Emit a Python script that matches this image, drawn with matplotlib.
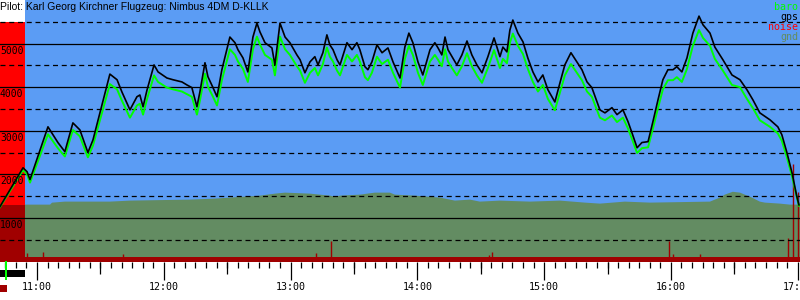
import numpy as np
import matplotlib
matplotlib.use("Agg")
import matplotlib.pyplot as plt
from matplotlib.patches import Rectangle

# flight data, minutes after 10:00 and altitude in m
minutes = [42.5, 53.4, 55.3, 56.7, 65.2, 69.9, 73.2, 77.0, 80.3, 84.1,
           86.5, 89.8, 94.5, 97.9, 100.2, 104.0, 107.3, 108.7, 110.2, 112.1,
           115.4, 117.3, 121.5, 124.4, 128.6, 131.0, 133.3, 135.7, 137.1, 139.5,
           140.9, 143.3, 145.2, 147.5, 151.3, 153.7, 155.1, 157.5, 159.8, 162.2,
           164.1, 165.5, 167.9, 171.2, 172.6, 175.0, 177.4, 179.7, 183.0, 184.5,
           186.8, 189.2, 191.5, 193.0, 195.3, 197.2, 198.6, 200.1, 202.0, 203.4,
           206.7, 209.1, 211.4, 212.8, 215.2, 216.6, 218.5, 220.9, 223.3, 226.1,
           228.5, 231.8, 234.1, 236.0, 237.9, 240.3, 242.6, 246.0, 248.3, 249.8,
           251.6, 253.1, 254.5, 256.4, 258.7, 261.1, 263.5, 265.8, 268.2, 270.6,
           273.4, 276.3, 279.1, 280.5, 282.4, 283.8, 285.2, 287.6, 290.0, 292.3,
           294.7, 297.1, 299.4, 301.8, 305.1, 307.5, 309.8, 312.7, 315.5, 317.9,
           320.3, 322.6, 326.4, 328.8, 332.1, 334.5, 337.3, 339.7, 341.6, 344.0,
           346.3, 349.2, 351.5, 353.9, 356.2, 358.6, 361.0, 362.8, 365.2, 367.6,
           370.4, 373.3, 375.2, 378.5, 380.8, 384.6, 388.9, 392.7, 396.0, 398.8,
           402.1, 406.9, 410.6, 412.5, 414.9, 417.3, 419.6, 420.6]

gps = [1260, 2150, 2060, 1880, 3090, 2730, 2520, 3180, 3020, 2500,
       2790, 3410, 4300, 4170, 3890, 3480, 3780, 3820, 3550, 3940,
       4510, 4350, 4210, 4170, 4120, 4050, 3990, 3550, 3890, 4560,
       4240, 3990, 3780, 4400, 5150, 5020, 4860, 4670, 4350, 5150,
       5470, 5270, 5020, 4900, 4510, 5470, 5150, 5020, 4740, 4630,
       4330, 4580, 4700, 4510, 4790, 5200, 4970, 4860, 4630, 4510,
       5020, 4860, 5020, 4860, 4470, 4400, 4580, 4970, 4790, 4900,
       4580, 4210, 4920, 5240, 5020, 4580, 4280, 4860, 5020, 4900,
       4740, 5150, 4860, 4700, 4510, 4740, 5060, 4740, 4510, 4330,
       4700, 5130, 4700, 4920, 4810, 5310, 5540, 5240, 5040, 4670,
       4350, 4120, 4280, 3940, 3660, 4100, 4510, 4790, 4580, 4400,
       4120, 3990, 3480, 3410, 3530, 3370, 3480, 3210, 2950, 2610,
       2730, 2750, 3210, 3710, 4170, 4400, 4400, 4470, 4350, 4670,
       5240, 5630, 5430, 5240, 4920, 4630, 4280, 4170, 3940, 3710,
       3410, 3250, 3090, 2910, 2500, 2040, 1490, 1300]

baro = [1250, 2100, 2000, 1810, 2920, 2600, 2410, 3020, 2870, 2390,
        2660, 3240, 4070, 3950, 3690, 3300, 3580, 3620, 3370, 3730,
        4270, 4120, 3990, 3950, 3900, 3840, 3780, 3370, 3690, 4310,
        4010, 3780, 3580, 4160, 4870, 4740, 4590, 4420, 4120, 4870,
        5160, 4980, 4740, 4630, 4270, 5160, 4870, 4740, 4480, 4380,
        4100, 4330, 4440, 4270, 4530, 4910, 4700, 4590, 4380, 4270,
        4740, 4590, 4740, 4590, 4230, 4160, 4330, 4700, 4530, 4630,
        4330, 3990, 4650, 4950, 4740, 4330, 4050, 4590, 4740, 4630,
        4480, 4870, 4590, 4440, 4270, 4480, 4780, 4480, 4270, 4100,
        4440, 4850, 4440, 4650, 4550, 5020, 5230, 4950, 4760, 4420,
        4120, 3900, 4050, 3730, 3470, 3880, 4270, 4530, 4330, 4160,
        3900, 3780, 3300, 3240, 3350, 3200, 3300, 3050, 2810, 2490,
        2600, 2620, 3050, 3520, 3950, 4160, 4160, 4230, 4120, 4420,
        4950, 5310, 5130, 4950, 4650, 4380, 4050, 4000, 3730, 3520,
        3240, 3090, 2940, 2770, 2390, 1960, 1470, 1280]

gnd_minutes = [42.5, 54.3, 66.2, 67.1, 73.2, 94.5, 104.0, 132.4, 144.2, 151.3,
               165.5, 172.6, 177.4, 189.2, 198.6, 201.0, 203.4, 212.8, 219.9, 227.0,
               229.4, 238.9, 250.7, 257.8, 264.9, 269.6, 279.1, 293.3, 307.5, 319.3,
               326.4, 338.2, 350.1, 378.5, 380.8, 383.2, 385.5, 389.3, 392.7, 395.0,
               397.4, 402.1, 404.5, 411.6, 416.3, 421.1]
gnd = [1305, 1305, 1305, 1350, 1374, 1374, 1397, 1420, 1443, 1466,
       1511, 1557, 1580, 1557, 1511, 1489, 1511, 1534, 1580, 1580,
       1534, 1511, 1466, 1397, 1420, 1374, 1397, 1374, 1397, 1351,
       1328, 1374, 1351, 1374, 1420, 1466, 1534, 1600, 1580, 1534,
       1489, 1374, 1351, 1328, 1305, 1305]

noise_floor = 100
noise_minutes = [55.3, 62.8, 100.7, 192.0, 199.1, 273.9, 275.3, 359.1, 361.0, 373.7, 415.4, 417.7, 420.1]
noise_level = [206, 229, 183, 206, 481, 160, 229, 481, 183, 183, 550, 2244, 1603]

engine_on = (40, 54.3)
engine_top = 5500

grid_solid = [1000, 2000, 3000, 4000, 5000]
grid_dashed = [500, 1500, 2500, 3500, 4500, 5500]
hour_ticks = [60, 120, 180, 240, 300, 360, 420]
hour_labels = ["11:00", "12:00", "13:00", "14:00", "15:00", "16:00", "17:00"]
legend_names = ["baro", "gps", "noise", "gnd"]

blue = "#5b9cf4"
green = "#00ff00"
red = "#ff0000"
darkred = "#a00000"
gndcol = "#638c62"
legend_colors = [green, "black", red, gndcol]

fig = plt.figure(figsize=(8, 3), dpi=100)
ax = fig.add_axes([0, 38.5 / 300, 1, 261.5 / 300])
ax.set_facecolor(blue)
ax.set_xlim(42.5, 421.1)
ax.set_ylim(0, 6000)

# ground
ax.fill_between(gnd_minutes, 0, gnd, color=gndcol, lw=0, zorder=1)

# engine running band
ax.fill_between([engine_on[0], engine_on[1]], 0, gnd[0], color=darkred, lw=0, zorder=2)
ax.fill_between([engine_on[0], engine_on[1]], gnd[0], engine_top, color=red, lw=0, zorder=2)
ax.fill_between([engine_on[0], engine_on[1]], engine_top, 6000, color="white", lw=0, zorder=2)

# noise
ax.axhspan(0, noise_floor, color=darkred, lw=0, zorder=3)
ax.vlines(noise_minutes, 0, noise_level, color=darkred, lw=1.0, zorder=3)

# grid
for v in grid_solid:
    ax.axhline(v, color="black", lw=0.9, zorder=4)
for v in grid_dashed:
    ax.axhline(v, color="black", lw=0.9, ls=(0, (4, 3)), zorder=4)

ax.plot(minutes, baro, color=green, lw=1.4, zorder=5)
ax.plot(minutes, gps, color="black", lw=1.2, zorder=6)

mono = "DejaVu Sans Mono"
for v in grid_solid:
    ax.annotate(str(v), xy=(0, v), xycoords=("axes fraction", "data"),
                xytext=(0, -2), textcoords="offset pixels", ha="left", va="top",
                fontsize=7, family=mono, color="black", zorder=7)

for i, (name, c) in enumerate(zip(legend_names, legend_colors)):
    ax.annotate(name, xy=(1, 1), xycoords="axes fraction",
                xytext=(-2, -10 - i * 10), textcoords="offset pixels",
                ha="right", va="baseline", fontsize=7.2, family=mono, color=c, zorder=8)

for s in ax.spines.values():
    s.set_visible(False)
ax.set_yticks([])
ax.set_xticks(hour_ticks)
ax.set_xticklabels(hour_labels, family=mono, fontsize=7.2)
ax.set_xticks(np.arange(45, 425, 5), minor=True)
ax.tick_params(axis="x", which="major", length=13, width=0.9, pad=1.8, direction="out")
ax.tick_params(axis="x", which="minor", length=4.3, width=0.9, direction="out")

half = ax.secondary_xaxis("bottom")
half.set_xticks([90, 150, 210, 270, 330, 390])
half.set_xticklabels([])
half.tick_params(length=8.6, width=0.9)
for s in half.spines.values():
    s.set_visible(False)

fig.text(0, 1 - 2 / 300, "Pilot: Karl Georg Kirchner Flugzeug: Nimbus 4DM D-KLLK",
         ha="left", va="top", fontsize=7.5, family="Liberation Sans", color="black")

# little markers at bottom left
fig.patches.append(Rectangle((0, 1 - 277 / 300), 25 / 800, 7 / 300,
                             transform=fig.transFigure, color="black", lw=0))
fig.patches.append(Rectangle((0, 1 - 292 / 300), 7 / 800, 7 / 300,
                             transform=fig.transFigure, color=darkred, lw=0))
fig.patches.append(Rectangle((5 / 800, 1 - 280 / 300), 2 / 800, 19 / 300,
                             transform=fig.transFigure, color=green, lw=0))

fig.savefig("out.png", dpi=100)
